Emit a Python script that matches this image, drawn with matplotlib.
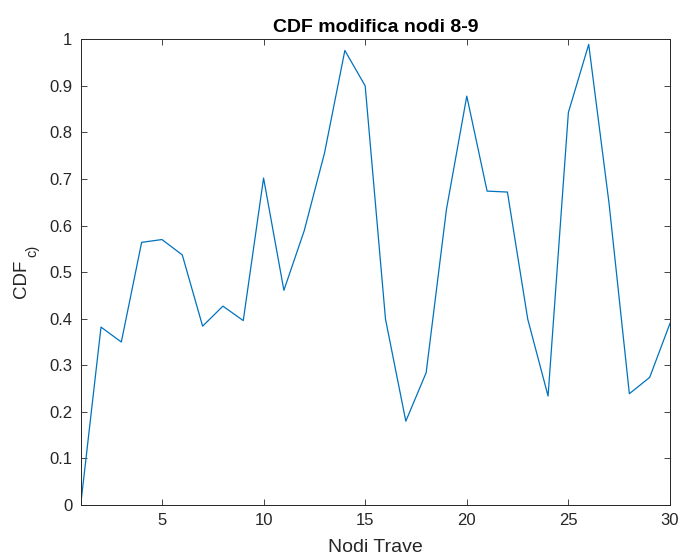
"""CDF plot for nodes 8-9 (MATLAB-style figure)."""

import matplotlib
matplotlib.use("Agg")
import matplotlib.pyplot as plt

# Data
nodes = list(range(1, 31))
cdf_values = [
    0.0, 0.382, 0.350, 0.564, 0.570, 0.537, 0.384, 0.427, 0.396, 0.702,
    0.461, 0.589, 0.756, 0.976, 0.900, 0.399, 0.180, 0.284, 0.635, 0.878,
    0.674, 0.672, 0.399, 0.234, 0.843, 0.989, 0.648, 0.239, 0.274, 0.390,
]
x_ticks = [5, 10, 15, 20, 25, 30]
y_ticks = [0, 0.1, 0.2, 0.3, 0.4, 0.5, 0.6, 0.7, 0.8, 0.9, 1.0]
y_tick_labels = ["0", "0.1", "0.2", "0.3", "0.4", "0.5", "0.6", "0.7", "0.8", "0.9", "1"]

plt.rcParams["font.family"] = ["Liberation Sans", "DejaVu Sans"]

AX_COLOR = "#262626"
W, H = 682, 559

fig = plt.figure(figsize=(W / 100, H / 100), dpi=100)
ax = fig.add_axes([0.1183, 0.0966, 0.8641, 0.8331])

ax.plot(nodes, cdf_values, color="#0072BD", linewidth=0.9)

ax.set_xlim(1, 30)
ax.set_ylim(0, 1)
ax.set_xticks(x_ticks)
ax.set_yticks(y_ticks)
ax.set_yticklabels(y_tick_labels)

ax.tick_params(direction="in", length=4.5, width=0.6, colors=AX_COLOR,
               labelsize=12, top=True, right=True, pad=6)
for spine in ax.spines.values():
    spine.set_color(AX_COLOR)
    spine.set_linewidth(0.7)

ax.set_title("CDF modifica nodi 8-9", fontsize=14, fontweight="bold",
             color="black", pad=5.5)
ax.set_xlabel("Nodi Trave", fontsize=14, color=AX_COLOR, labelpad=8)

# y label with MATLAB-style (low, large) subscript
fig.text(21.5 / W, 1 - 279 / H, "CDF", rotation=90, fontsize=13.5,
         color=AX_COLOR, ha="center", va="center")
fig.text(32.5 / W, 1 - 251 / H, "c)", rotation=90, fontsize=10.5,
         color=AX_COLOR, ha="center", va="center")

fig.savefig("out.png", dpi=100)
plt.close(fig)
